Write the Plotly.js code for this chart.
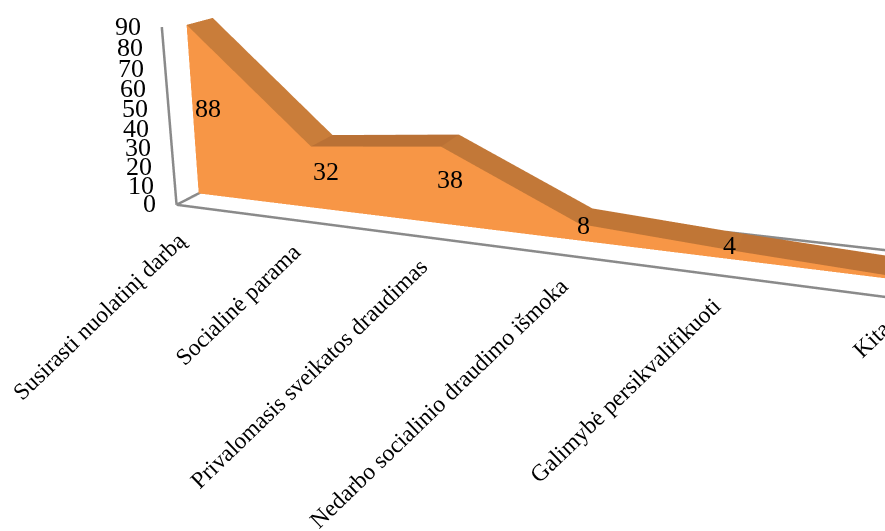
<!DOCTYPE html>
<html><head><meta charset="utf-8"><script src="https://cdn.plot.ly/plotly-3.0.1.min.js"></script>
<style>
html,body{margin:0;padding:0;background:#fff;overflow:hidden;width:885px;height:531px}
#c{position:absolute;left:-513px;top:15.5px;width:1610px;height:859px}
</style></head>
<body><div id="c"></div><script>
const categories=["Susirasti nuolatinį darbą","Socialinė parama","Privalomasis sveikatos draudimas","Nedarbo socialinio draudimo išmoka","Galimybė persikvalifikuoti","Kita"];
const values=[88,32,38,8,4,1];
const valueTicks=[0,10,20,30,40,50,60,70,80,90];
const slopeColors=["#C97D3A","#BA7135","#C27838","#C07636","#BE7336"];
const labelXShift=[15,15,11,5,-6,0];
const labelYShift=[4,6,6,7,10,0];
const categoryXShift=[17,16,14,10,0,-15];
const categoryYShift=[-20,-15,-13,-15,-13,-12];

const frontDepth=.372, backDepth=.8;
const idx=categories.map((_,i)=>i);

// Ribbon: front wall plus sloping top, one colour per triangle
const x=[],y=[],z=[],I=[],J=[],K=[],faces=[];
function vert(a,b,c){x.push(a);y.push(b);z.push(c);return x.length-1}
idx.forEach(i=>{vert(i,frontDepth,0);vert(i,frontDepth,values[i]);vert(i,backDepth,values[i]);});
for(let i=0;i<idx.length-1;i++){
  const a=3*i,b=3*i+3;
  I.push(a,a+1);J.push(a+1,b+1);K.push(b,b);faces.push("#F79646","#F79646");
  I.push(a+1,a+2);J.push(a+2,b+2);K.push(b+1,b+1);faces.push(slopeColors[i],slopeColors[i]);
}
const ribbon={type:'mesh3d',x,y,z,i:I,j:J,k:K,facecolor:faces,flatshading:true,
  lighting:{ambient:1,diffuse:0,specular:0,roughness:1,fresnel:0},hoverinfo:'skip'};

const lastCat=idx.length-1, maxTick=valueTicks[valueTicks.length-1];
function edge(xs,ys,zs){return {type:'scatter3d',mode:'lines',x:xs,y:ys,z:zs,line:{color:'#8A8A8A',width:5},hoverinfo:'skip',showlegend:false}}
const edges=[edge([0,lastCat],[0,0],[0,0]),edge([0,lastCat],[1,1],[0,0]),edge([0,0],[0,1],[0,0]),edge([0,0],[0,0],[0,maxTick])];

const serif='"Liberation Serif","Times New Roman",serif';
const annotations=[];
valueTicks.forEach(t=>annotations.push({x:0,y:0,z:t,text:String(t),showarrow:false,xanchor:'right',yanchor:'middle',xshift:-19,yshift:1,font:{family:serif,size:26,color:'#000'}}));
values.forEach((v,i)=>{ if(i<lastCat) annotations.push({x:i,y:frontDepth,z:v/2,text:String(v),showarrow:false,xanchor:'center',yanchor:'middle',xshift:labelXShift[i],yshift:labelYShift[i],font:{family:serif,size:26,color:'#000'}})});
categories.forEach((c,i)=>annotations.push({x:i,y:0,z:0,text:c,showarrow:false,textangle:-44,xanchor:'right',yanchor:'top',xshift:categoryXShift[i],yshift:categoryYShift[i],font:{family:serif,size:23.5,color:'#000'}}));

const hidden={visible:false,showgrid:false,zeroline:false,showspikes:false,showbackground:false};
Plotly.newPlot('c',[ribbon,...edges],{
  width:1610,height:859,paper_bgcolor:'#fff',margin:{l:0,r:0,t:0,b:0,pad:0},showlegend:false,
  scene:{domain:{x:[0,1],y:[0,1]},aspectmode:'manual',aspectratio:{x:2,y:.3511,z:.5123},
    camera:{eye:{x:.7565,y:-2.8048,z:.6754},center:{x:-.4462,y:-.5141,z:-.8033},up:{x:-.2039,y:.4532,z:.8678},projection:{type:'perspective'}},
    xaxis:{...hidden,range:[0,lastCat]},yaxis:{...hidden,range:[0,1]},zaxis:{...hidden,range:[0,maxTick]},annotations}
},{displayModeBar:false});
</script></body></html>
